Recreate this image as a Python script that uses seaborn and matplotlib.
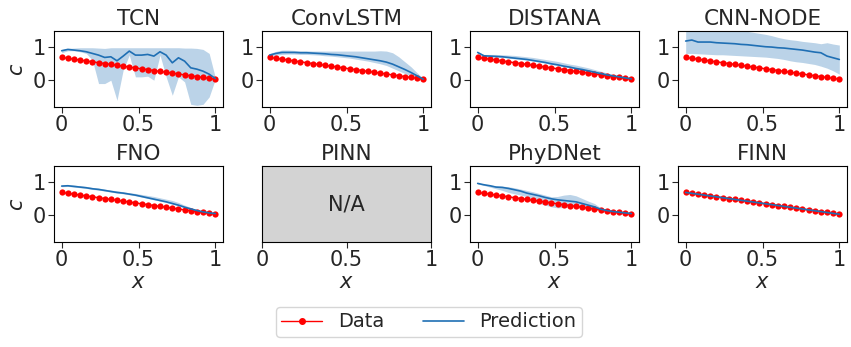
import matplotlib
matplotlib.use("Agg")
import matplotlib.pyplot as plt
import seaborn as sns
from matplotlib.lines import Line2D

# Data
x = [0.00, 0.04, 0.08, 0.12, 0.16, 0.20, 0.24, 0.28, 0.32, 0.36, 0.40, 0.44, 0.48,
     0.52, 0.56, 0.60, 0.64, 0.68, 0.72, 0.76, 0.80, 0.84, 0.88, 0.92, 0.96, 1.00]
data_c = [0.68, 0.654, 0.628, 0.602, 0.576, 0.55, 0.524, 0.498, 0.472, 0.446, 0.42, 0.394, 0.368,
          0.342, 0.316, 0.29, 0.264, 0.238, 0.212, 0.186, 0.16, 0.134, 0.108, 0.082, 0.056, 0.03]

tcn_mean = [0.88, 0.92, 0.90, 0.88, 0.85, 0.80, 0.75, 0.68, 0.70, 0.58, 0.72, 0.87, 0.75,
            0.75, 0.77, 0.72, 0.85, 0.75, 0.52, 0.67, 0.57, 0.37, 0.33, 0.27, 0.18, 0.05]
tcn_hi = [0.92, 0.95, 0.96, 0.97, 0.97, 0.97, 0.96, 0.95, 0.97, 0.97, 0.97, 0.97, 0.97,
          0.97, 0.97, 0.97, 0.97, 0.97, 0.97, 0.97, 0.96, 0.96, 0.95, 0.92, 0.80, 0.08]
tcn_lo = [0.82, 0.88, 0.88, 0.85, 0.80, 0.60, -0.10, -0.10, 0.00, -0.60, 0.30, 0.75, 0.10,
          0.10, 0.12, 0.00, 0.75, 0.10, -0.45, 0.10, -0.05, -0.72, -0.75, -0.72, -0.50, 0.03]

convlstm_mean = [0.75, 0.80, 0.83, 0.83, 0.83, 0.82, 0.82, 0.81, 0.80, 0.79, 0.77, 0.76, 0.74,
                 0.72, 0.70, 0.67, 0.64, 0.61, 0.58, 0.54, 0.48, 0.40, 0.32, 0.23, 0.13, 0.03]
convlstm_hi = [0.80, 0.86, 0.90, 0.90, 0.89, 0.88, 0.88, 0.87, 0.87, 0.87, 0.87, 0.87, 0.87,
               0.87, 0.87, 0.87, 0.87, 0.87, 0.88, 0.87, 0.82, 0.70, 0.55, 0.40, 0.22, 0.05]
convlstm_lo = [0.72, 0.75, 0.77, 0.78, 0.78, 0.77, 0.77, 0.76, 0.75, 0.73, 0.72, 0.70, 0.68,
               0.66, 0.63, 0.60, 0.57, 0.53, 0.49, 0.44, 0.36, 0.28, 0.20, 0.13, 0.07, 0.02]

distana_mean = [0.83, 0.73, 0.72, 0.71, 0.70, 0.68, 0.66, 0.64, 0.62, 0.59, 0.56, 0.53, 0.49,
                0.46, 0.42, 0.39, 0.35, 0.32, 0.28, 0.24, 0.20, 0.16, 0.13, 0.10, 0.07, 0.04]
distana_hi = [0.85, 0.77, 0.77, 0.77, 0.76, 0.75, 0.74, 0.72, 0.70, 0.68, 0.65, 0.62, 0.59,
              0.56, 0.52, 0.48, 0.45, 0.41, 0.37, 0.32, 0.27, 0.22, 0.17, 0.12, 0.08, 0.05]
distana_lo = [0.81, 0.71, 0.70, 0.69, 0.68, 0.66, 0.64, 0.62, 0.60, 0.57, 0.54, 0.51, 0.47,
              0.44, 0.40, 0.37, 0.33, 0.30, 0.26, 0.22, 0.18, 0.15, 0.12, 0.09, 0.06, 0.03]

cnnnode_mean = [1.17, 1.20, 1.14, 1.14, 1.14, 1.12, 1.11, 1.10, 1.09, 1.07, 1.06, 1.04, 1.02,
                1.00, 0.99, 0.97, 0.96, 0.94, 0.92, 0.90, 0.87, 0.84, 0.82, 0.72, 0.67, 0.62]
cnnnode_hi = [1.60, 1.60, 1.60, 1.58, 1.56, 1.55, 1.53, 1.52, 1.51, 1.49, 1.46, 1.43, 1.40,
              1.37, 1.33, 1.28, 1.24, 1.21, 1.19, 1.16, 1.14, 1.12, 1.09, 1.12, 1.08, 1.05]
cnnnode_lo = [0.80, 0.80, 0.79, 0.78, 0.77, 0.76, 0.76, 0.75, 0.74, 0.73, 0.72, 0.71, 0.70,
              0.69, 0.67, 0.65, 0.62, 0.58, 0.55, 0.53, 0.50, 0.47, 0.42, 0.36, 0.28, 0.18]

fno_mean = [0.87, 0.88, 0.86, 0.84, 0.82, 0.79, 0.77, 0.74, 0.71, 0.68, 0.66, 0.63, 0.60,
            0.56, 0.52, 0.48, 0.44, 0.40, 0.35, 0.30, 0.24, 0.19, 0.14, 0.10, 0.07, 0.05]
fno_hi = [0.90, 0.91, 0.90, 0.88, 0.86, 0.83, 0.81, 0.78, 0.75, 0.73, 0.70, 0.67, 0.65,
          0.62, 0.59, 0.56, 0.52, 0.48, 0.44, 0.38, 0.30, 0.23, 0.16, 0.12, 0.08, 0.06]
fno_lo = [0.85, 0.86, 0.84, 0.82, 0.80, 0.77, 0.75, 0.72, 0.69, 0.66, 0.64, 0.61, 0.58,
          0.54, 0.50, 0.46, 0.42, 0.38, 0.33, 0.28, 0.22, 0.17, 0.12, 0.09, 0.06, 0.04]

phydnet_mean = [0.95, 0.91, 0.88, 0.84, 0.83, 0.80, 0.76, 0.72, 0.66, 0.62, 0.58, 0.53, 0.49,
                0.46, 0.44, 0.42, 0.40, 0.35, 0.30, 0.25, 0.18, 0.14, 0.11, 0.09, 0.07, 0.05]
phydnet_hi = [0.97, 0.93, 0.90, 0.88, 0.87, 0.85, 0.82, 0.78, 0.74, 0.70, 0.65, 0.60, 0.55,
              0.56, 0.60, 0.62, 0.58, 0.50, 0.42, 0.35, 0.22, 0.17, 0.13, 0.10, 0.08, 0.06]
phydnet_lo = [0.93, 0.89, 0.84, 0.79, 0.74, 0.68, 0.64, 0.60, 0.55, 0.48, 0.35, 0.30, 0.25,
              0.22, 0.23, 0.25, 0.25, 0.22, 0.20, 0.16, 0.12, 0.09, 0.07, 0.05, 0.04, 0.03]

finn_mean = [0.68, 0.654, 0.628, 0.602, 0.576, 0.55, 0.524, 0.498, 0.472, 0.446, 0.42, 0.394, 0.368,
             0.342, 0.316, 0.29, 0.264, 0.238, 0.212, 0.186, 0.16, 0.134, 0.108, 0.082, 0.056, 0.03]
finn_hi = [0.69, 0.664, 0.638, 0.612, 0.586, 0.56, 0.534, 0.508, 0.482, 0.456, 0.43, 0.404, 0.378,
           0.352, 0.326, 0.30, 0.274, 0.248, 0.222, 0.196, 0.17, 0.144, 0.118, 0.092, 0.066, 0.04]
finn_lo = [0.67, 0.644, 0.618, 0.592, 0.566, 0.54, 0.514, 0.488, 0.462, 0.436, 0.41, 0.384, 0.358,
           0.332, 0.306, 0.28, 0.254, 0.228, 0.202, 0.176, 0.15, 0.124, 0.098, 0.072, 0.046, 0.02]

models = ["TCN", "ConvLSTM", "DISTANA", "CNN-NODE", "FNO", "PINN", "PhyDNet", "FINN"]
preds = {
    "TCN": (tcn_mean, tcn_lo, tcn_hi),
    "ConvLSTM": (convlstm_mean, convlstm_lo, convlstm_hi),
    "DISTANA": (distana_mean, distana_lo, distana_hi),
    "CNN-NODE": (cnnnode_mean, cnnnode_lo, cnnnode_hi),
    "FNO": (fno_mean, fno_lo, fno_hi),
    "PINN": None,
    "PhyDNet": (phydnet_mean, phydnet_lo, phydnet_hi),
    "FINN": (finn_mean, finn_lo, finn_hi),
}

sns.set_style("ticks")
plt.rcParams["font.family"] = ["DejaVu Sans"]
plt.rcParams["axes.edgecolor"] = "black"

pred_color = "#1f6fb4"
W, H = 851, 347
fig = plt.figure(figsize=(W / 100, H / 100), dpi=100)

col_left = [54, 262, 470, 678]
row_top = [31, 166]
ax_w, ax_h = 169, 76

for i, name in enumerate(models):
    r, c = divmod(i, 4)
    ax = fig.add_axes([col_left[c] / W, 1 - (row_top[r] + ax_h) / H, ax_w / W, ax_h / H])
    ax.set_title(name, fontsize=15.5, pad=4)
    if preds[name] is None:
        ax.set_facecolor("lightgray")
        ax.text(0.5, 0.5, "N/A", transform=ax.transAxes, ha="center", va="center", fontsize=15)
        ax.set_xlim(0, 1)
        ax.set_ylim(-0.8, 1.47)
        ax.set_yticks([])
    else:
        mean, lo, hi = preds[name]
        ax.fill_between(x, lo, hi, color=pred_color, alpha=0.3, linewidth=0)
        sns.lineplot(x=x, y=data_c, ax=ax, color="red", linewidth=1, marker="o",
                     markersize=4.5, markeredgewidth=0)
        sns.lineplot(x=x, y=mean, ax=ax, color=pred_color, linewidth=1.2)
        ax.set_ylim(-0.8, 1.47)
        ax.set_yticks([0, 1], ["0", "1"])
    ax.set_xticks([0, 0.5, 1], ["0", "0.5", "1"])
    ax.tick_params(labelsize=15, length=4, pad=2)
    if c == 0:
        ax.set_ylabel("$c$", fontsize=15)
    if r == 1:
        ax.set_xlabel("$x$", fontsize=15, labelpad=1)

handles = [Line2D([0], [0], color="red", marker="o", markersize=4, linewidth=1),
           Line2D([0], [0], color=pred_color, linewidth=1.2)]
fig.legend(handles, ["Data", "Prediction"], loc="lower center", ncol=2,
           bbox_to_anchor=(0.504, 0.0), fontsize=14, frameon=True, handlelength=2.1,
           columnspacing=2.0, borderpad=0.3)

fig.savefig("out.png", dpi=100)
